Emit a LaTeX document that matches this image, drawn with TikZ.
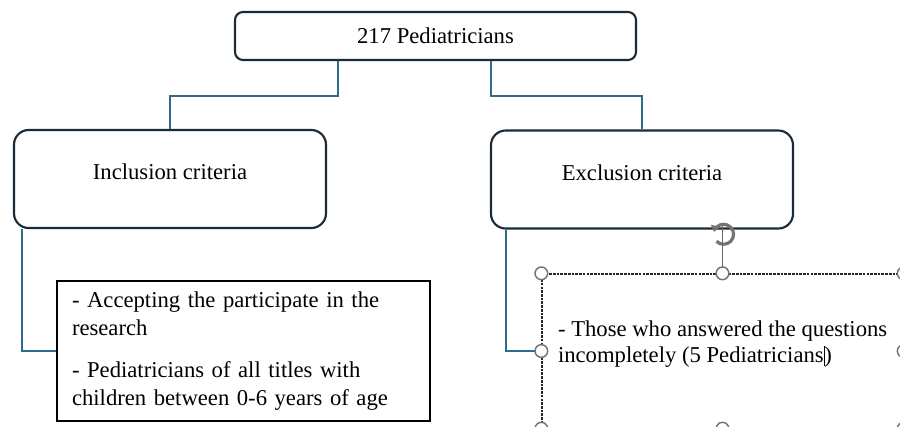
\documentclass[tikz,border=0pt]{standalone}
\usepackage{fontspec}
\setmainfont{Liberation Serif}
\usepackage{xcolor}
\usepackage{tikz}
\usetikzlibrary{positioning,calc,arrows.meta}
\definecolor{boxline}{HTML}{1C2B36}
\definecolor{linkline}{HTML}{2E6C8C}

\begin{document}
\begin{tikzpicture}[x=0.75pt,y=-0.75pt,
  font=\fontsize{17}{21}\selectfont,
  topbox/.style={draw=boxline,line width=1.6pt,rounded corners=6pt,minimum width=300.75pt,minimum height=36pt},
  groupbox/.style={draw=boxline,line width=1.6pt,rounded corners=11pt,minimum width=234pt,minimum height=73.5pt},
  listbox/.style={draw=black,line width=1.5pt,text width=257.25pt,inner xsep=11.25pt,minimum height=105pt,align=left},
  selbox/.style={draw=black!85,line width=1pt,dash pattern=on 2pt off 0.8pt,minimum width=270.75pt,minimum height=115.5pt},
  handle/.style={circle,draw=black!55,fill=white,line width=1.1pt,inner sep=0pt,minimum size=9.5pt},
  link/.style={draw=linkline,line width=1.5pt}]
  \useasboundingbox (0,0) rectangle (900,426);

  \node[topbox] (ped) at (435.5,36) {217 Pediatricians};
  \node[groupbox] (incl) at (170,179) {};
  \node[groupbox,minimum width=226.5pt] (excl) at (642,179.5) {};
  \node (incltxt) at ([shift={(0,-7)}]incl.center) {Inclusion criteria};
  \node (excltxt) at ([shift={(0,-7)}]excl.center) {Exclusion criteria};

  \node[listbox] (inlist) at (243.5,351) {- Accepting the participate in the\\
    research\\[10.5pt]
    - Pediatricians of all titles with\\
    children between 0-6 years of age};

  \node[selbox] (exlist) at (722.5,351) {};
  \node[anchor=west,align=left,font=\fontsize{17}{19.5}\selectfont] (extxt) at ([shift={(12,-7)}]exlist.west)
    {- Those who answered the questions\\ incompletely (5 Pediatricians\rule[-3pt]{0.6pt}{15pt})};

  \path[link] ([shift={(-97.5,0)}]ped.south) -- ++(0,35) -| (incl.north);
  \path[link] ([shift={(55.5,0)}]ped.south) -- ++(0,35) -| (excl.north);
  \path[link] ([shift={(9,0)}]incl.south west) |- (inlist.west);
  \path[link] ([shift={(16,0)}]excl.south west) |- (exlist.west);

  \coordinate (rot) at ([shift={(0,-38)}]exlist.north);
  \draw[black!60,line width=0.9pt] (exlist.north) -- ([shift={(0,-9)}]rot);
  \draw[black!55,line width=2.4pt,-{Triangle[length=4.5pt,width=7pt]}] ([shift={(-6,6)}]rot) arc[start angle=-135,end angle=165,radius=7.5pt];
  \foreach \a in {north west,north,north east,west,east,south west,south,south east}
    \node[handle] (h-\a) at (exlist.\a) {};
\end{tikzpicture}
\end{document}
